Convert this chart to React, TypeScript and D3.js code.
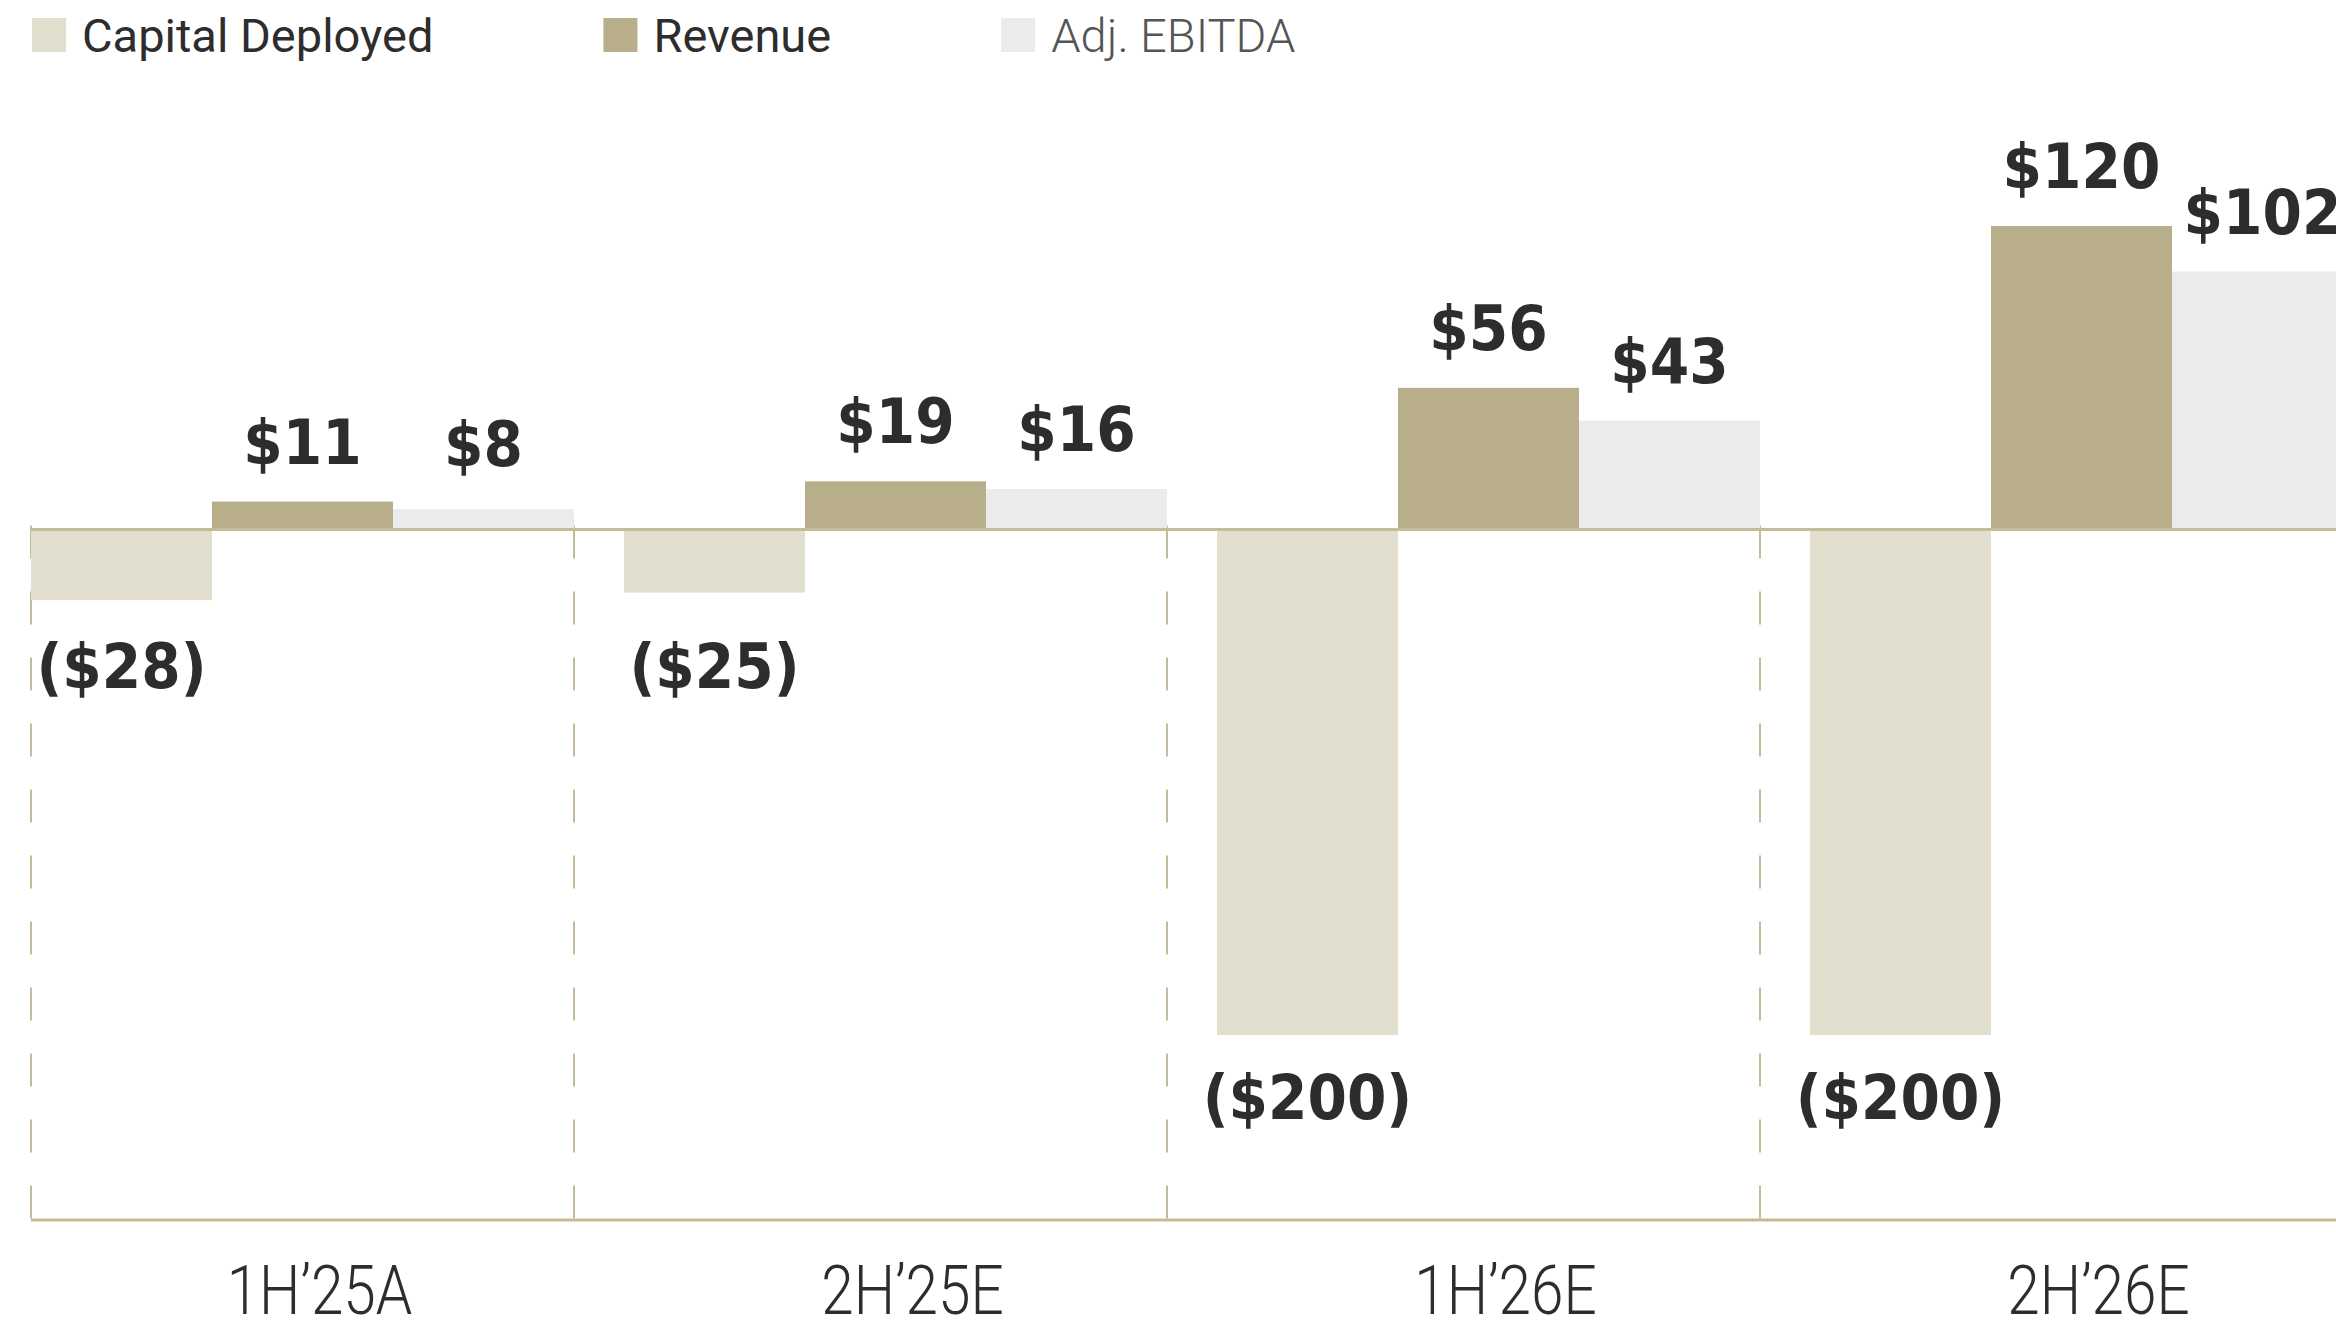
import React, { useEffect, useRef } from "react";
import * as d3 from "d3";

// categories / series
const categories = ["1H’25A", "2H’25E", "1H’26E", "2H’26E"];
const seriesNames = ["Capital Deployed", "Revenue", "Adj. EBITDA"];
const capitalDeployed = [-28, -25, -200, -200];
const revenue = [11, 19, 56, 120];
const adjEbitda = [8, 16, 43, 102];

const seriesColors = ["#e2dfcf", "#b8af8a", "#ebebeb"];
const lineColor = "#c4bc98";
const textColor = "#2e2c2d";

const fmt = (v: number) => (v < 0 ? `($${-v})` : `$${v}`);

export default function App() {
  const svgRef = useRef<SVGSVGElement>(null);
  const width = 2336;
  const height = 1323;

  useEffect(() => {
    const svg = d3.select(svgRef.current);
    svg.selectAll("*").remove();

    const series = [capitalDeployed, revenue, adjEbitda];

    // groups and bars inside groups
    const x0 = d3.scaleBand().domain(categories).range([31, 2353]).paddingInner(0.0843).paddingOuter(0);
    const x1 = d3.scaleBand().domain(seriesNames).range([0, x0.bandwidth()]).padding(0);
    const y = d3.scaleLinear().domain([-200, 120]).range([1035, 226]);
    const zero = y(0);
    const bottom = 1220;

    // dashed separators (left border + end of each group)
    const sepX = [31, ...categories.map((c) => (x0(c) as number) + x0.bandwidth())];
    svg.append("g")
      .selectAll("line")
      .data(sepX)
      .join("line")
      .attr("x1", (d) => d)
      .attr("x2", (d) => d)
      .attr("y1", zero - 4)
      .attr("y2", bottom)
      .attr("stroke", lineColor)
      .attr("stroke-width", 2)
      .attr("stroke-dasharray", "33 33");

    // bars
    const cells = categories.flatMap((c, i) =>
      seriesNames.map((s, j) => ({ c, s, j, v: series[j][i] }))
    );
    svg.append("g")
      .selectAll("rect")
      .data(cells)
      .join("rect")
      .attr("x", (d) => (x0(d.c) as number) + (x1(d.s) as number))
      .attr("width", x1.bandwidth())
      .attr("y", (d) => Math.min(y(d.v), zero))
      .attr("height", (d) => Math.abs(y(d.v) - zero))
      .attr("fill", (d) => seriesColors[d.j]);

    // zero line + bottom axis line
    svg.append("line")
      .attr("x1", 31).attr("x2", width)
      .attr("y1", zero).attr("y2", zero)
      .attr("stroke", lineColor).attr("stroke-width", 3);
    svg.append("line")
      .attr("x1", 31).attr("x2", width)
      .attr("y1", bottom).attr("y2", bottom)
      .attr("stroke", lineColor).attr("stroke-width", 3);

    // value labels
    svg.append("g")
      .selectAll("text")
      .data(cells)
      .join("text")
      .attr("x", (d) => (x0(d.c) as number) + (x1(d.s) as number) + x1.bandwidth() / 2)
      .attr("y", (d) =>
        d.v >= 0 ? Math.min(y(d.v) - 38, zero - 63) : Math.max(y(d.v) + 84, zero + 159)
      )
      .attr("text-anchor", "middle")
      .attr("font-family", "'DejaVu Sans', sans-serif")
      .attr("font-weight", 700)
      .attr("font-stretch", "condensed")
      .attr("font-size", 63)
      .attr("fill", textColor)
      .text((d) => fmt(d.v));

    // category labels
    svg.append("g")
      .selectAll("text")
      .data(categories)
      .join("text")
      .attr("transform", (c) => `translate(${(x0(c) as number) + x0.bandwidth() / 2 + 17},1314) scale(0.86,1)`)
      .attr("text-anchor", "middle")
      .attr("font-family", "Roboto, sans-serif")
      .attr("font-weight", 300)
      .attr("font-size", 68)
      .attr("fill", textColor)
      .text((c) => c);

    // legend
    const legend = svg.append("g").attr("transform", "translate(32,18)");
    let lx = 0;
    seriesNames.forEach((name, j) => {
      legend.append("rect")
        .attr("x", lx).attr("y", 0)
        .attr("width", 34).attr("height", 34)
        .attr("fill", seriesColors[j]);
      const t = legend.append("text")
        .attr("x", lx + 50).attr("y", 34)
        .attr("font-family", "Roboto, sans-serif")
        .attr("font-weight", j === 2 ? 300 : 400)
        .attr("font-size", 47)
        .attr("fill", j === 2 ? "#555" : textColor)
        .text(name);
      const w = (t.node() as SVGTextElement).getComputedTextLength();
      lx = lx + 50 + w + 170;
    });
  }, []);

  return (
    <svg
      ref={svgRef}
      width={width}
      height={height}
      viewBox={`0 0 ${width} ${height}`}
      style={{ position: "absolute", left: 0, top: 0, background: "#fff" }}
    />
  );
}
